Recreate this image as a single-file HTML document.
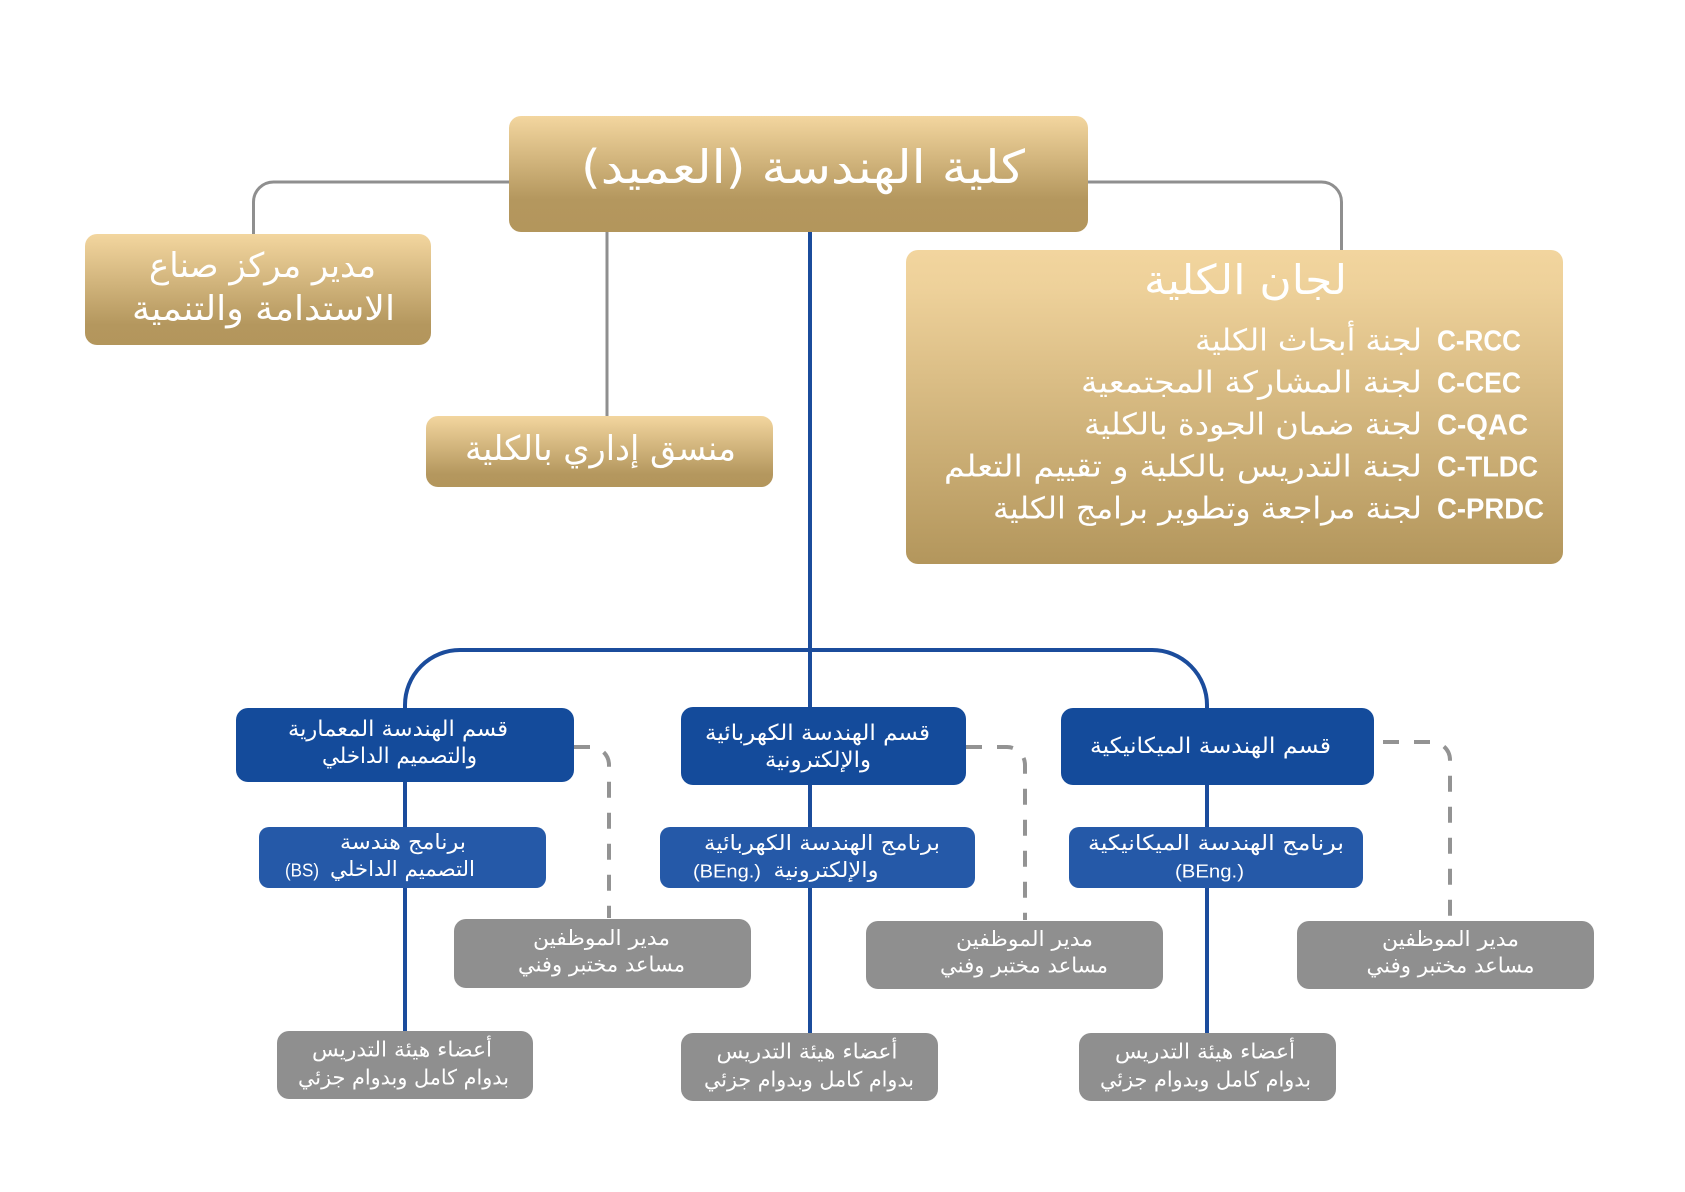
<!DOCTYPE html>
<html>
<head>
<meta charset="utf-8">
<style>
  html,body{margin:0;padding:0;background:#ffffff;}
  svg{display:block;}
  .ar{font-family:"DejaVu Sans","Liberation Sans",sans-serif;fill:#ffffff;direction:rtl;unicode-bidi:embed;}
  .la{font-family:"Liberation Sans",sans-serif;fill:#ffffff;}
  .code{font-family:"Liberation Sans",sans-serif;font-weight:bold;fill:#ffffff;}
</style>
</head>
<body>
<svg width="1685" height="1192" viewBox="0 0 1685 1192" xmlns="http://www.w3.org/2000/svg">
  <defs>
    <linearGradient id="g1" x1="0" y1="0" x2="0" y2="1">
      <stop offset="0" stop-color="#f3d69f"/>
      <stop offset="0.72" stop-color="#b4975e"/>
      <stop offset="1" stop-color="#b3965c"/>
    </linearGradient>
    <linearGradient id="g2" x1="0" y1="0" x2="0" y2="1">
      <stop offset="0" stop-color="#f3d69f"/>
      <stop offset="0.82" stop-color="#b4975e"/>
      <stop offset="1" stop-color="#b3965c"/>
    </linearGradient>
    <linearGradient id="g3" x1="0" y1="0" x2="0" y2="1">
      <stop offset="0" stop-color="#f2d59e"/>
      <stop offset="0.12" stop-color="#eed19a"/>
      <stop offset="1" stop-color="#b3965c"/>
    </linearGradient>
  </defs>

  <!-- gray connectors -->
  <g fill="none" stroke="#8f8f8f" stroke-width="3">
    <path d="M509 182 H273.5 A20 20 0 0 0 253.5 202 V236"/>
    <path d="M1088 182 H1321.5 A20 20 0 0 1 1341.5 202 V252"/>
    <path d="M607 232 V418"/>
  </g>

  <!-- blue connectors -->
  <g fill="none" stroke="#1b4c9c" stroke-width="4">
    <path d="M810 232 V1034"/>
    <path d="M405 1032 V705 A55 55 0 0 1 460 650 H1152 A55 55 0 0 1 1207 705 V1034"/>
  </g>

  <!-- dashed connectors -->
  <g fill="none" stroke="#939393" stroke-width="4" stroke-dasharray="16 15">
    <path d="M574 747 H591 A18 18 0 0 1 609 765 V918"/>
    <path d="M966 747 H1007 A18 18 0 0 1 1025 765 V920"/>
    <path d="M1383 742 H1432 A18 18 0 0 1 1450 760 V920"/>
  </g>

  <!-- gold boxes -->
  <rect x="509" y="116" width="579" height="116" rx="12" fill="url(#g1)"/>
  <rect x="85" y="234" width="346" height="111" rx="12" fill="url(#g2)"/>
  <rect x="426" y="416" width="347" height="71" rx="12" fill="url(#g2)"/>
  <rect x="906" y="250" width="657" height="314" rx="12" fill="url(#g3)"/>

  <!-- blue dept boxes -->
  <rect x="236" y="708" width="338" height="74" rx="12" fill="#144b9b"/>
  <rect x="681" y="707" width="285" height="78" rx="12" fill="#144b9b"/>
  <rect x="1061" y="708" width="313" height="77" rx="12" fill="#144b9b"/>

  <!-- program boxes -->
  <rect x="259" y="827" width="287" height="61" rx="10" fill="#2559a8"/>
  <rect x="660" y="827" width="315" height="61" rx="10" fill="#2559a8"/>
  <rect x="1069" y="827" width="294" height="61" rx="10" fill="#2559a8"/>

  <!-- gray boxes -->
  <rect x="454" y="919" width="297" height="69" rx="12" fill="#8f8f8f"/>
  <rect x="866" y="921" width="297" height="68" rx="12" fill="#8f8f8f"/>
  <rect x="1297" y="921" width="297" height="68" rx="12" fill="#8f8f8f"/>
  <rect x="277" y="1031" width="256" height="68" rx="12" fill="#8f8f8f"/>
  <rect x="681" y="1033" width="257" height="68" rx="12" fill="#8f8f8f"/>
  <rect x="1079" y="1033" width="257" height="68" rx="12" fill="#8f8f8f"/>

  <!-- Dean -->
  <text class="ar" x="803" y="183" font-size="46" text-anchor="middle" textLength="444" lengthAdjust="spacingAndGlyphs">كلية الهندسة (العميد)&#x200F;</text>

  <!-- Left gold box -->
  <text class="ar" x="262.5" y="277" font-size="34" text-anchor="middle" textLength="227" lengthAdjust="spacingAndGlyphs">مدير مركز صناع</text>
  <text class="ar" x="263.5" y="320" font-size="34" text-anchor="middle" textLength="263" lengthAdjust="spacingAndGlyphs">الاستدامة والتنمية</text>

  <!-- Admin -->
  <text class="ar" x="600.5" y="460" font-size="34" text-anchor="middle" textLength="271" lengthAdjust="spacingAndGlyphs">منسق إداري بالكلية</text>

  <!-- Committees -->
  <text class="ar" x="1245.5" y="294" font-size="41" text-anchor="middle" textLength="203" lengthAdjust="spacingAndGlyphs">لجان الكلية</text>

  <text class="code" x="1437" y="350.5" font-size="29" textLength="84" lengthAdjust="spacingAndGlyphs">C-RCC</text>
  <text class="code" x="1437" y="392.5" font-size="29" textLength="84" lengthAdjust="spacingAndGlyphs">C-CEC</text>
  <text class="code" x="1437" y="434.5" font-size="29" textLength="91" lengthAdjust="spacingAndGlyphs">C-QAC</text>
  <text class="code" x="1437" y="476.5" font-size="29" textLength="101" lengthAdjust="spacingAndGlyphs">C-TLDC</text>
  <text class="code" x="1437" y="518.5" font-size="29" textLength="107" lengthAdjust="spacingAndGlyphs">C-PRDC</text>

  <text class="ar" x="1308.5" y="350.5" font-size="30" text-anchor="middle" textLength="227" lengthAdjust="spacingAndGlyphs">لجنة أبحاث الكلية</text>
  <text class="ar" x="1251.5" y="392.5" font-size="30" text-anchor="middle" textLength="341" lengthAdjust="spacingAndGlyphs">لجنة المشاركة المجتمعية</text>
  <text class="ar" x="1253" y="434.5" font-size="30" text-anchor="middle" textLength="338" lengthAdjust="spacingAndGlyphs">لجنة ضمان الجودة بالكلية</text>
  <text class="ar" x="1183" y="476.5" font-size="30" text-anchor="middle" textLength="478" lengthAdjust="spacingAndGlyphs">لجنة التدريس بالكلية و تقييم التعلم</text>
  <text class="ar" x="1207.5" y="518.5" font-size="30" text-anchor="middle" textLength="429" lengthAdjust="spacingAndGlyphs">لجنة مراجعة وتطوير برامج الكلية</text>

  <!-- Dept boxes -->
  <text class="ar" x="398" y="736" font-size="22" text-anchor="middle" textLength="220" lengthAdjust="spacingAndGlyphs">قسم الهندسة المعمارية</text>
  <text class="ar" x="399.5" y="763" font-size="22" text-anchor="middle" textLength="155" lengthAdjust="spacingAndGlyphs">والتصميم الداخلي</text>

  <text class="ar" x="817.5" y="740" font-size="22" text-anchor="middle" textLength="225" lengthAdjust="spacingAndGlyphs">قسم الهندسة الكهربائية</text>
  <text class="ar" x="818" y="767" font-size="22" text-anchor="middle" textLength="106" lengthAdjust="spacingAndGlyphs">والإلكترونية</text>

  <text class="ar" x="1210.5" y="753" font-size="22" text-anchor="middle" textLength="241" lengthAdjust="spacingAndGlyphs">قسم الهندسة الميكانيكية</text>

  <!-- Program boxes -->
  <text class="ar" x="403" y="849" font-size="21" text-anchor="middle" textLength="126" lengthAdjust="spacingAndGlyphs">برنامج هندسة</text>
  <text class="ar" x="402.5" y="876" font-size="21" text-anchor="middle" textLength="145" lengthAdjust="spacingAndGlyphs">التصميم الداخلي</text>
  <text class="la" x="302" y="876.5" font-size="18" text-anchor="middle" textLength="34" lengthAdjust="spacingAndGlyphs">(BS)</text>

  <text class="ar" x="822" y="850" font-size="21" text-anchor="middle" textLength="236" lengthAdjust="spacingAndGlyphs">برنامج الهندسة الكهربائية</text>
  <text class="ar" x="826" y="877" font-size="21" text-anchor="middle" textLength="105" lengthAdjust="spacingAndGlyphs">والإلكترونية</text>
  <text class="la" x="727" y="877.5" font-size="18" text-anchor="middle" textLength="68" lengthAdjust="spacingAndGlyphs">(BEng.)</text>

  <text class="ar" x="1216" y="850" font-size="21" text-anchor="middle" textLength="256" lengthAdjust="spacingAndGlyphs">برنامج الهندسة الميكانيكية</text>
  <text class="la" x="1209.5" y="877.5" font-size="18" text-anchor="middle" textLength="69" lengthAdjust="spacingAndGlyphs">(BEng.)</text>

  <!-- Staff boxes -->
  <text class="ar" x="601.5" y="945" font-size="21" text-anchor="middle" textLength="137" lengthAdjust="spacingAndGlyphs">مدير الموظفين</text>
  <text class="ar" x="601.5" y="971.5" font-size="21" text-anchor="middle" textLength="167" lengthAdjust="spacingAndGlyphs">مساعد مختبر وفني</text>

  <text class="ar" x="1024.5" y="946" font-size="21" text-anchor="middle" textLength="137" lengthAdjust="spacingAndGlyphs">مدير الموظفين</text>
  <text class="ar" x="1024" y="972.5" font-size="21" text-anchor="middle" textLength="168" lengthAdjust="spacingAndGlyphs">مساعد مختبر وفني</text>

  <text class="ar" x="1450.5" y="946" font-size="21" text-anchor="middle" textLength="137" lengthAdjust="spacingAndGlyphs">مدير الموظفين</text>
  <text class="ar" x="1450.5" y="972.5" font-size="21" text-anchor="middle" textLength="168" lengthAdjust="spacingAndGlyphs">مساعد مختبر وفني</text>

  <!-- Faculty boxes -->
  <text class="ar" x="402" y="1056.5" font-size="21" text-anchor="middle" textLength="180" lengthAdjust="spacingAndGlyphs">أعضاء هيئة التدريس</text>
  <text class="ar" x="403.5" y="1084.5" font-size="21" text-anchor="middle" textLength="211" lengthAdjust="spacingAndGlyphs">بدوام كامل وبدوام جزئي</text>

  <text class="ar" x="807" y="1058.5" font-size="21" text-anchor="middle" textLength="181" lengthAdjust="spacingAndGlyphs">أعضاء هيئة التدريس</text>
  <text class="ar" x="809" y="1086.5" font-size="21" text-anchor="middle" textLength="210" lengthAdjust="spacingAndGlyphs">بدوام كامل وبدوام جزئي</text>

  <text class="ar" x="1205" y="1058.5" font-size="21" text-anchor="middle" textLength="180" lengthAdjust="spacingAndGlyphs">أعضاء هيئة التدريس</text>
  <text class="ar" x="1205.5" y="1086.5" font-size="21" text-anchor="middle" textLength="211" lengthAdjust="spacingAndGlyphs">بدوام كامل وبدوام جزئي</text>
</svg>
</body>
</html>
